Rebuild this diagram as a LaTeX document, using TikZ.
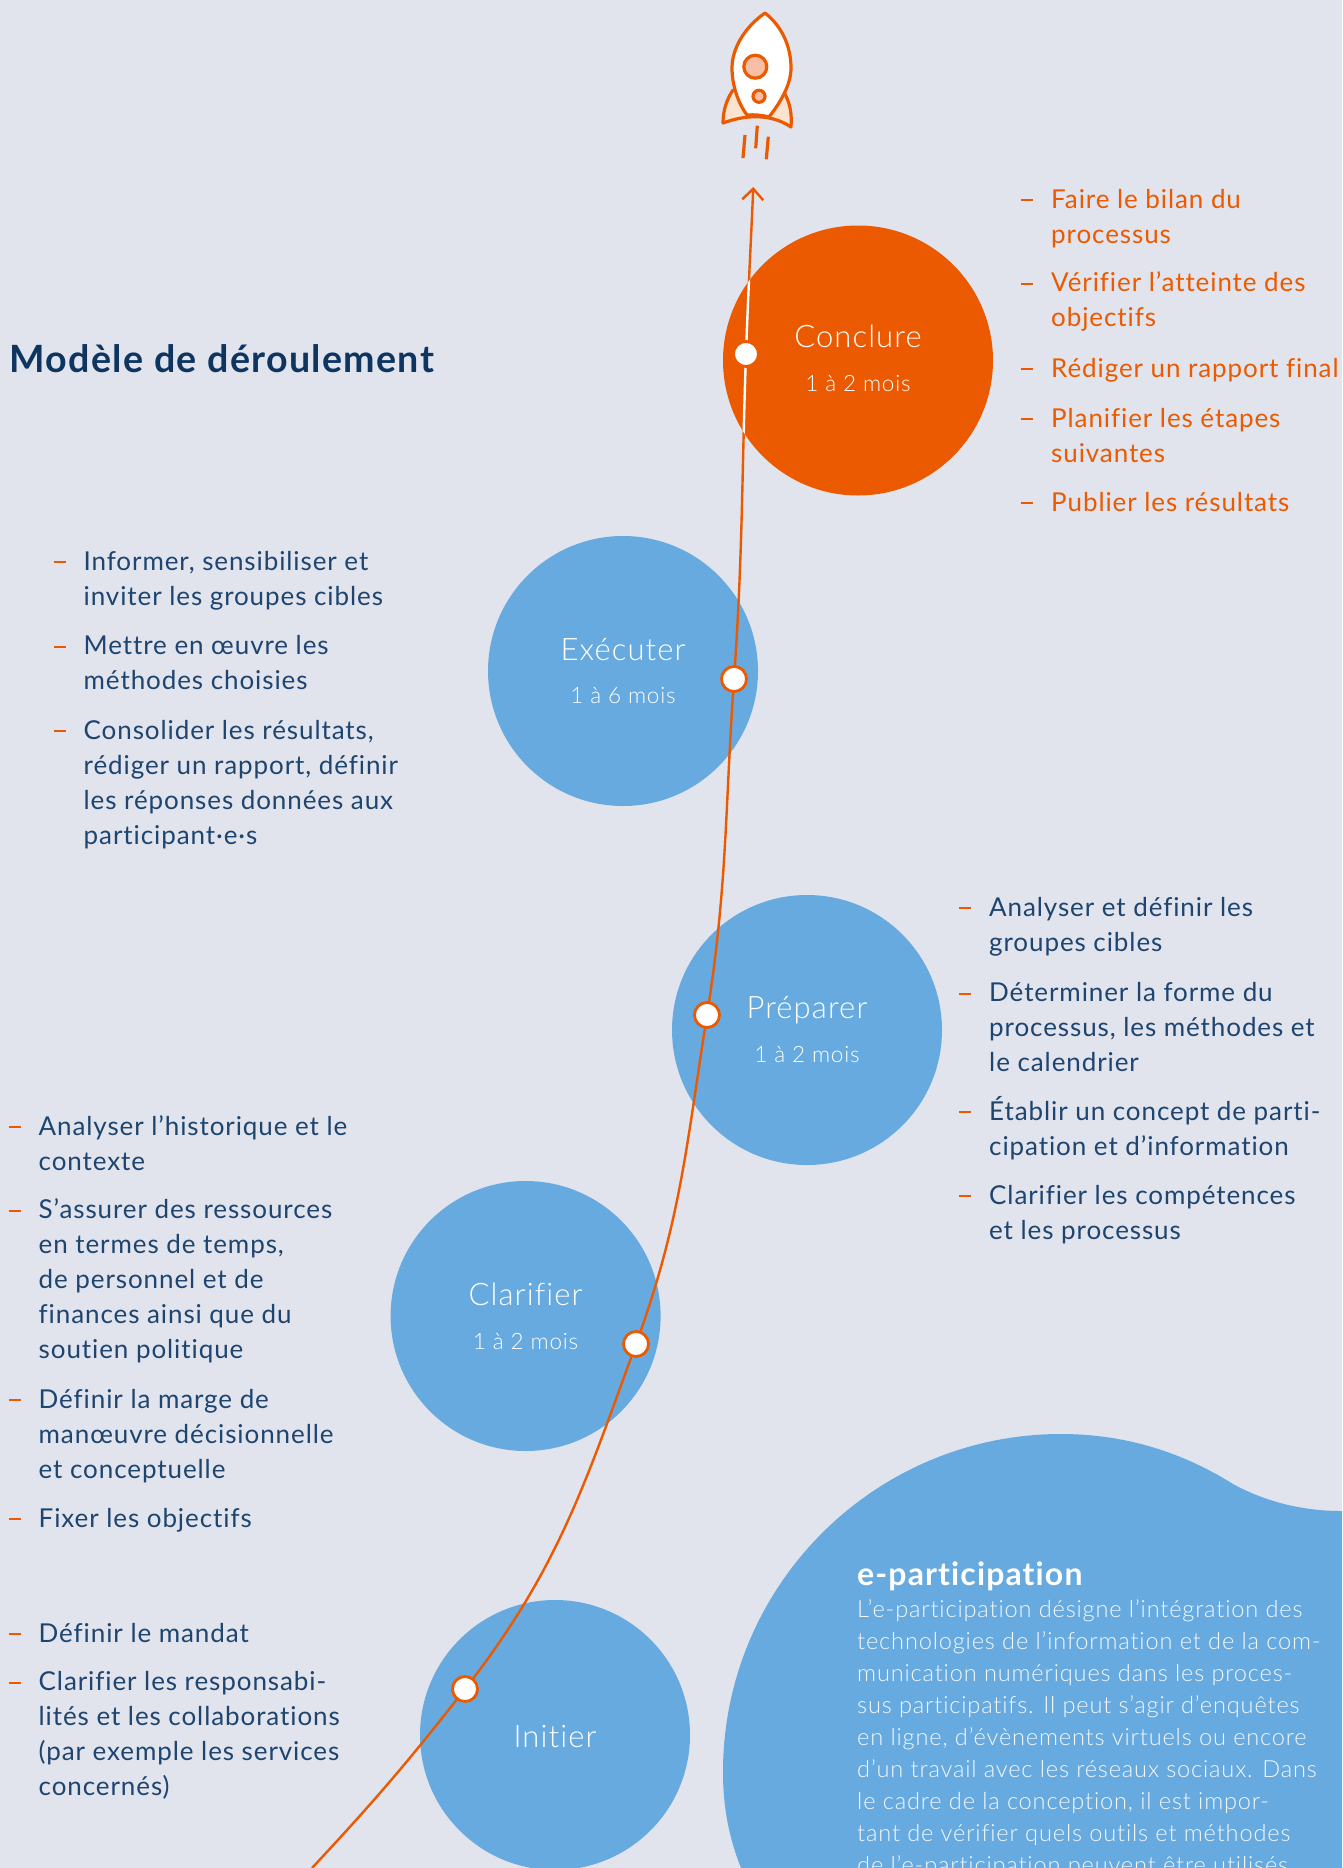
\documentclass[tikz,border=0pt]{standalone}
\usepackage{fontspec}
\setmainfont{Lato}[LetterSpace=3.5, Ligatures=NoCommon]
\newfontfamily\lightfont{Lato Light}[LetterSpace=3.5, Ligatures=NoCommon]
\usetikzlibrary{arrows.meta}

\definecolor{pagebg}{HTML}{E1E4EC}
\definecolor{discblue}{HTML}{67AADF}
\definecolor{rust}{HTML}{EB5A00}
\definecolor{listblue}{HTML}{1E4470}
\definecolor{titleblue}{HTML}{0E3560}
\definecolor{bodypale}{HTML}{F4F8FC}
\definecolor{finpale}{HTML}{FCE3CF}
\definecolor{portpale}{HTML}{F8BFA4}

\tikzset{
  disc/.style={circle, fill=discblue, minimum size=270pt, inner sep=0pt},
  phasename/.style={text=white, anchor=base, inner sep=0pt, font=\lightfont\fontsize{31}{35}\selectfont},
  phasetime/.style={text=white, anchor=base, inner sep=0pt, font=\lightfont\fontsize{22.5}{30}\selectfont},
  entry/.style={anchor=north west, align=left, inner sep=0pt, yshift=23.5pt,
    font=\fontsize{26}{35}\selectfont},
  entrydash/.style={rust, line width=2pt},
  marker/.style={circle, fill=white, draw=rust, line width=2.8pt, minimum size=25pt, inner sep=0pt},
  flowline/.style={rust, line width=2.4pt},
  rocketline/.style={rust, line width=3.2pt, line join=round, line cap=round},
}

\newcommand{\listentry}[5][listblue]{%
  \node (#2) [entry, text=#1] at (#3,#4) {\strut #5};
  \draw[entrydash] ([xshift=-30pt,yshift=-16.5pt]#2.north west) -- ++(12,0);
}

\begin{document}
\begin{tikzpicture}[x=1pt, y=-1pt]
  \clip (0,0) rectangle (1342,1868);
  \fill[pagebg] (0,0) rectangle (1342,1868);

  % e-participation blob
  \fill[discblue] (741,1868) .. controls (728,1835) and (723,1805) .. (723,1772)
    .. controls (723,1585) and (875,1434) .. (1061,1434)
    .. controls (1125,1434) and (1182,1452) .. (1233,1484)
    .. controls (1268,1503) and (1305,1511) .. (1342,1511)
    -- (1342,1868) -- cycle;

  % discs
  \node (conclure) [disc, fill=rust] at (858,360.5) {};
  \node (executer) [disc] at (623,671) {};
  \node (preparer) [disc] at (807,1030) {};
  \node (clarifier) [disc] at (525.6,1316) {};
  \node (initier) [disc] at (555,1735) {};

  % path of the rocket
  \coordinate (pStart) at (312,1868);
  \coordinate (pInit) at (465,1689);
  \coordinate (pClar) at (636,1344);
  \coordinate (pPrep) at (707,1015);
  \coordinate (pExec) at (734,679);
  \coordinate (pConc) at (746,354);
  \coordinate (pTip) at (753.3,187);

  \draw[flowline, -{Straight Barb[length=11pt,width=21pt]}] (pStart)
    to[out=47, in=232] (pInit)
    to[out=52, in=250] (pClar)
    to[out=70, in=261] (pPrep)
    to[out=81, in=266] (pExec)
    to[out=86, in=268] (pConc)
    to[out=88, in=267.5] (pTip);
  \begin{scope}
    \clip (858,360.5) circle (135);
    \draw[white, line width=2.4pt] (pExec) to[out=86, in=268] (pConc)
      to[out=88, in=267.5] (pTip);
  \end{scope}

  \node (mInit) [marker] at (pInit) {};
  \node (mClar) [marker] at (pClar) {};
  \node (mPrep) [marker] at (pPrep) {};
  \node (mExec) [marker] at (pExec) {};
  \node (mConc) [marker] at (pConc) {};

  % disc labels
  \node (tConc) [phasename] at (858,347.5) {Conclure};
  \node (dConc) [phasetime] at (858,391.5) {1 à 2 mois};
  \node (tExec) [phasename] at (623,660.5) {Exécuter};
  \node (dExec) [phasetime] at (623,703) {1 à 6 mois};
  \node (tPrep) [phasename] at (807,1018) {Préparer};
  \node (dPrep) [phasetime] at (807,1062) {1 à 2 mois};
  \node (tClar) [phasename] at (525.6,1305) {Clarifier};
  \node (dClar) [phasetime] at (525.6,1349) {1 à 2 mois};
  \node (tInit) [phasename] at (555,1747) {Initier};

  % rocket
  \filldraw[rocketline, fill=finpale] (733,90) .. controls (727,99) and (723,110) .. (723,123)
    .. controls (745,115) and (770,113) .. (791,127)
    .. controls (792,113) and (790,104) .. (785,94);
  \filldraw[rocketline, fill=white] (765,13) .. controls (745,27) and (732,48) .. (732,68)
    .. controls (732,85) and (738,103) .. (747,115)
    .. controls (754,114.5) and (762,115) .. (769,117)
    .. controls (780,103) and (791,85) .. (791,68)
    .. controls (791,48) and (783,27) .. (765,13) -- cycle;
  \filldraw[rocketline, fill=portpale] (755.3,66.7) circle (11.5);
  \filldraw[rocketline, fill=portpale] (759,96.3) circle (6);
  \draw[rocketline, line cap=butt] (745,135) -- (743,158);
  \draw[rocketline, line cap=butt] (757.3,125.7) -- (755.7,148.3);
  \draw[rocketline, line cap=butt] (768.3,136.7) -- (766.3,159.3);

  % title
  \node (title) [anchor=base west, inner sep=0pt, text=titleblue,
    font=\fontsize{37.6}{40}\selectfont\bfseries] at (9.5,372) {Modèle de déroulement};

  % lists
  \listentry[rust]{cA}{1051}{207}{Faire le bilan du\\processus}
  \listentry[rust]{cB}{1051}{290.5}{Vérifier l’atteinte des\\objectifs}
  \listentry[rust]{cC}{1051}{376}{Rédiger un rapport final}
  \listentry[rust]{cD}{1051}{426}{Planifier les étapes\\suivantes}
  \listentry[rust]{cE}{1051}{510}{Publier les résultats}

  \listentry{eA}{83.5}{569}{Informer, sensibiliser et\\inviter les groupes cibles}
  \listentry{eB}{83.5}{653.5}{Mettre en œuvre les\\méthodes choisies}
  \listentry{eC}{83.5}{738}{Consolider les résultats,\\rédiger un rapport, définir\\les réponses données aux\\participant·e·s}

  \listentry{pA}{989}{915}{Analyser et définir les\\groupes cibles}
  \listentry{pB}{989}{1000.5}{Déterminer la forme du\\processus, les méthodes et\\le calendrier}
  \listentry{pC}{989}{1119}{Établir un concept de parti-\\cipation et d’information}
  \listentry{pD}{989}{1203}{Clarifier les compétences\\et les processus}

  \listentry{lA}{38.5}{1134}{Analyser l’historique et le\\contexte}
  \listentry{lB}{38.5}{1217.5}{S’assurer des ressources\\en termes de temps,\\de personnel et de\\finances ainsi que du\\soutien politique}
  \listentry{lC}{38.5}{1407}{Définir la marge de\\manœuvre décisionnelle\\et conceptuelle}
  \listentry{lD}{38.5}{1526}{Fixer les objectifs}

  \listentry{iA}{38.5}{1641}{Définir le mandat}
  \listentry{iB}{38.5}{1689.5}{Clarifier les responsabi-\\lités et les collaborations\\(par exemple les services\\concernés)}

  % e-participation text
  \node (epartHead) [anchor=base west, inner sep=0pt, text=white,
    font=\fontsize{32}{34}\selectfont\bfseries] at (857,1585) {e-participation};
  \node (epartBody) [anchor=north west, align=left, inner sep=0pt, text=bodypale, yshift=22.4pt,
    font=\lightfont\fontsize{23.6}{32}\selectfont] at (857,1617)
    {\strut L’e-participation désigne l’intégration des\\
     technologies de l’information et de la com-\\
     munication numériques dans les proces-\\
     sus participatifs. Il peut s’agir d’enquêtes\\
     en ligne, d’évènements virtuels ou encore\\
     d’un travail avec les réseaux sociaux. Dans\\
     le cadre de la conception, il est impor-\\
     tant de vérifier quels outils et méthodes\\
     de l’e-participation peuvent être utilisés};
\end{tikzpicture}
\end{document}
